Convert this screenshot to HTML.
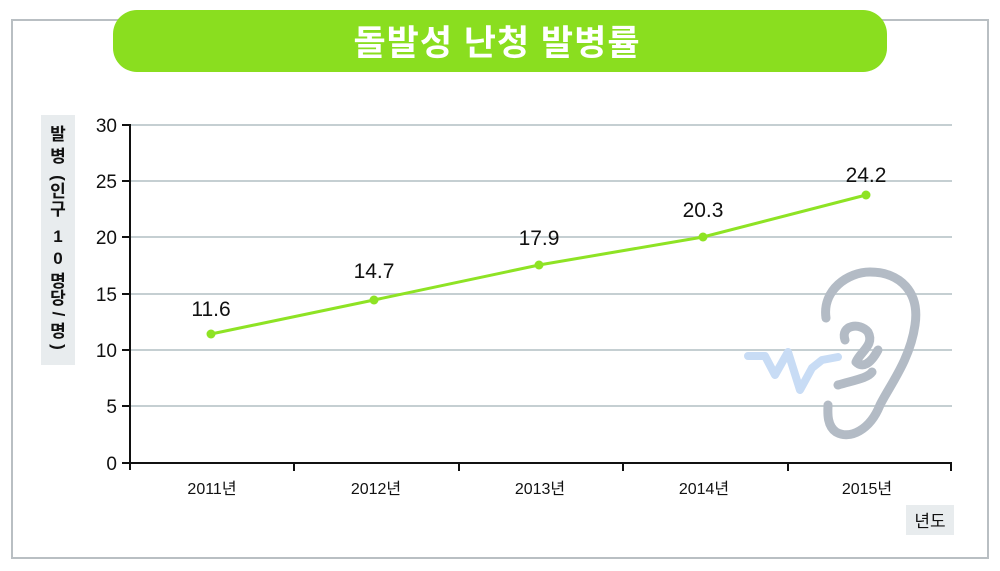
<!DOCTYPE html>
<html><head><meta charset="utf-8"><style>
body{margin:0;background:#fff;}
svg{display:block;font-family:"Liberation Sans","Noto Sans CJK KR",sans-serif;}
</style></head><body>
<svg width="1000" height="571" viewBox="0 0 1000 571">
<rect x="12" y="20" width="976" height="538" fill="#fff" stroke="#b9bfc3" stroke-width="2"/>
<rect x="113" y="10" width="774" height="62" rx="24" fill="#8ade1f"/>
<text x="497" y="55" text-anchor="middle" font-size="35" font-weight="bold" fill="#fff" letter-spacing="1">돌발성 난청 발병률</text>
<g stroke="#c5cfd2" stroke-width="2">
<line x1="130" y1="125" x2="952" y2="125"/><line x1="130" y1="181" x2="952" y2="181"/>
<line x1="130" y1="237" x2="952" y2="237"/><line x1="130" y1="294" x2="952" y2="294"/>
<line x1="130" y1="350" x2="952" y2="350"/><line x1="130" y1="406" x2="952" y2="406"/>
</g>
<g fill="none" stroke-linecap="round" stroke-linejoin="round">
<path d="M748 356 L765 356 L775 375 L788 352 L800 390 L812 368 L822 360 L838 357" stroke="#c8dcf5" stroke-width="8"/>
<path d="M826 318 C822 290 848 272 870 272 C900 272 920 292 915 325 C910 360 890 385 880 405 C870 430 850 440 836 432 C826 425 828 410 828 405" stroke="#b3bbc5" stroke-width="9"/>
<path d="M845 340 C840 325 860 322 868 332 C875 345 860 352 856 362 C862 368 870 365 878 350" stroke="#b3bbc5" stroke-width="9"/>
<path d="M838 385 C855 380 868 378 872 372" stroke="#b3bbc5" stroke-width="9"/>
</g>
<g stroke="#111" stroke-width="2">
<line x1="130" y1="124" x2="130" y2="470"/><line x1="129" y1="463" x2="952" y2="463"/>
<line x1="122" y1="125" x2="130" y2="125"/><line x1="122" y1="181" x2="130" y2="181"/>
<line x1="122" y1="237" x2="130" y2="237"/><line x1="122" y1="294" x2="130" y2="294"/>
<line x1="122" y1="350" x2="130" y2="350"/><line x1="122" y1="406" x2="130" y2="406"/>
<line x1="122" y1="463" x2="130" y2="463"/>
<line x1="294" y1="463" x2="294" y2="471"/><line x1="459" y1="463" x2="459" y2="471"/>
<line x1="623" y1="463" x2="623" y2="471"/><line x1="788" y1="463" x2="788" y2="471"/>
<line x1="951" y1="463" x2="951" y2="471"/>
</g>
<g font-size="19" fill="#111" text-anchor="end">
<text x="117" y="132">30</text><text x="117" y="188">25</text><text x="117" y="244">20</text>
<text x="117" y="301">15</text><text x="117" y="357">10</text><text x="117" y="413">5</text><text x="117" y="470">0</text>
</g>
<g font-size="16" fill="#111" text-anchor="middle">
<text x="212" y="494">2011년</text><text x="376" y="494">2012년</text><text x="540" y="494">2013년</text>
<text x="704" y="494">2014년</text><text x="867" y="494">2015년</text>
</g>
<rect x="906" y="505" width="48" height="30" fill="#e8ecee"/>
<text x="930" y="527" font-size="17" text-anchor="middle" fill="#111">년도</text>
<rect x="41" y="115" width="34" height="250" fill="#e8ecee"/>
<g font-size="17" font-weight="bold" fill="#111" text-anchor="middle">
<text x="58" y="140">발</text><text x="58" y="162">병</text>
<text transform="translate(58,178) rotate(90)" y="5">(</text>
<text x="58" y="197">인</text><text x="58" y="215">구</text>
<text x="58" y="242">1</text><text x="58" y="264">0</text>
<text x="58" y="287">명</text><text x="58" y="304">당</text>
<text transform="translate(58,314) rotate(90)" y="5">/</text>
<text x="58" y="337">명</text>
<text transform="translate(58,347) rotate(90)" y="5">)</text>
</g>
<polyline points="211,334 374,300 539,265 703,237 866,195" fill="none" stroke="#8ee324" stroke-width="3"/>
<g fill="#8ee324"><circle cx="211" cy="334" r="4.5"/><circle cx="374" cy="300" r="4.5"/><circle cx="539" cy="265" r="4.5"/><circle cx="703" cy="237" r="4.5"/><circle cx="866" cy="195" r="4.5"/></g>
<g font-size="21" fill="#111" text-anchor="middle">
<text x="211" y="316">11.6</text><text x="374" y="278">14.7</text><text x="539" y="245">17.9</text>
<text x="703" y="217">20.3</text><text x="866" y="182">24.2</text>
</g>
</svg>
</body></html>
